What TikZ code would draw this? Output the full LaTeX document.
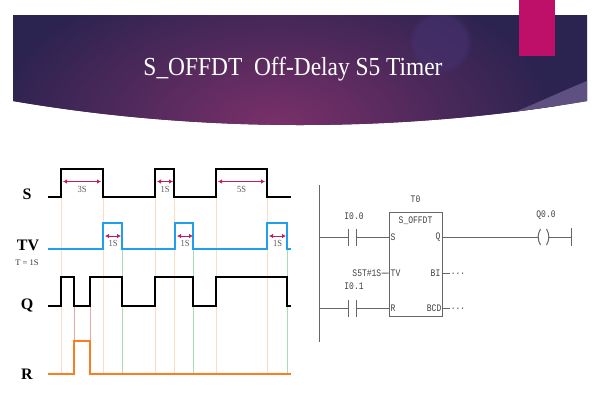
\documentclass[tikz,border=0pt]{standalone}
\usepackage{fontspec}
\setmainfont{Liberation Serif}
\setmonofont{Liberation Mono}
\usetikzlibrary{arrows.meta}
\usetikzlibrary{fadings}
\usetikzlibrary{positioning}

\definecolor{bannerdark}{HTML}{2B2350}
\definecolor{bannermid}{HTML}{7A3069}
\definecolor{bannerglow}{HTML}{46306C}
\definecolor{bannerswoosh}{HTML}{5F5082}
\definecolor{tabpink}{HTML}{BE0F69}
\definecolor{tvblue}{HTML}{1EA0EA}
\definecolor{resetorange}{HTML}{FB7D1E}
\definecolor{markred}{HTML}{C8185E}
\definecolor{guideorange}{HTML}{FCDCC6}
\definecolor{guidegreen}{HTML}{A9DDB4}
\definecolor{guidepink}{HTML}{E8A8A8}
\definecolor{ladderline}{HTML}{666666}

\tikzset{
  signal/.style={line width=1.7pt, line join=miter},
  guide/.style={line width=0.9pt},
  pulsearrow/.style={markred, line width=0.9pt, {Latex[length=4pt,width=4.5pt]}-{Latex[length=4pt,width=4.5pt]}},
  pulselabel/.style={font=\fontsize{8.5}{8.5}\selectfont, text=black!65, inner sep=0pt, yscale=1.1},
  signalname/.style={font=\bfseries\fontsize{16}{16}\selectfont, inner sep=0pt},
  wire/.style={ladderline, line width=1pt},
  laddertext/.style={font=\ttfamily\fontsize{8}{8}\selectfont, text=black!75, inner sep=0pt, yscale=1.25},
}

\begin{document}
\begin{tikzpicture}[x=1pt, y=-1pt]
  \useasboundingbox (0,0) rectangle (600,400);
  \fill[white] (0,0) rectangle (600,400);

  % banner
  \begin{scope}
    \clip (13,15) -- (587,15) -- (587,101) .. controls (400,133) and (200,133) .. (13,101) -- cycle;
    \fill[bannerdark] (0,0) rectangle (600,150);
    \shade[inner color=bannermid, outer color=bannerdark] (275,125) ellipse (285 and 160);
    \fill[bannerglow, opacity=0.7, path fading=circle with fuzzy edge 20 percent] (440,42) circle (32);
    \fill[bannerswoosh] (587,81) .. controls (540,100) and (510,118) .. (455,130) -- (587,130) -- cycle;
  \end{scope}
  \fill[tabpink] (519,0) rectangle (555,56);
  \node (title) [text=white, font=\fontsize{26}{26}\selectfont, inner sep=0pt, xscale=0.9] at (293,69) {S\_OFFDT\ \ Off-Delay S5 Timer};

  % guide lines
  \foreach \x in {61,103,155,174,216,267}
    \draw[guide, guideorange] (\x,197) -- (\x,374);
  \foreach \x in {122,193,287}
    \draw[guide, guidegreen] (\x,249) -- (\x,374);
  \foreach \x in {74,90}
    \draw[guide, guidepink] (\x,306) -- (\x,341);

  % signals
  \draw[signal, black] (48,197) -- (61,197) -- (61,169) -- (103,169) -- (103,197) -- (155,197)
    -- (155,169) -- (174,169) -- (174,197) -- (216,197) -- (216,169) -- (267,169) -- (267,197) -- (291,197);
  \draw[signal, tvblue] (48,249) -- (103,249) -- (103,223) -- (122,223) -- (122,249) -- (175,249)
    -- (175,223) -- (193,223) -- (193,249) -- (267,249) -- (267,223) -- (287,223) -- (287,249) -- (291,249);
  \draw[signal, black] (48,306) -- (61,306) -- (61,277) -- (74,277) -- (74,306) -- (90,306) -- (90,277)
    -- (122,277) -- (122,306) -- (155,306) -- (155,277) -- (193,277) -- (193,306) -- (216,306)
    -- (216,277) -- (287,277) -- (287,306) -- (291,306);
  \draw[signal, resetorange] (48,374) -- (74,374) -- (74,341) -- (90,341) -- (90,374) -- (291,374);

  \node (nameS)  [signalname] at (27,194) {S};
  \node (nameTV) [signalname] at (28,245) {TV};
  \node (nameT)  [font=\fontsize{8.5}{8.5}\selectfont, text=black!80, inner sep=0pt] at (27,263) {T = 1S};
  \node (nameQ)  [signalname] at (27,305) {Q};
  \node (nameR)  [signalname] at (27,374) {R};

  % pulse widths
  \draw[pulsearrow] (63,181.5) -- (101,181.5) node[midway, below=4pt, pulselabel]{3S};
  \draw[pulsearrow] (157,181.5) -- (173,181.5) node[midway, below=4pt, pulselabel]{1S};
  \draw[pulsearrow] (218,181.5) -- (265,181.5) node[midway, below=4pt, pulselabel]{5S};
  \draw[pulsearrow] (105,236) -- (121,236) node[midway, below=4pt, pulselabel]{1S};
  \draw[pulsearrow] (177,236) -- (193,236) node[midway, below=4pt, pulselabel]{1S};
  \draw[pulsearrow] (269,236) -- (286,236) node[midway, below=4pt, pulselabel]{1S};

  % ladder rung
  \coordinate (railtop) at (319,185);
  \coordinate (railbot) at (319,342);
  \coordinate (railS) at (319,237);
  \coordinate (railR) at (319,308);
  \draw[wire] (railtop) -- (railbot);

  \node (timer) [draw=ladderline, line width=1pt, minimum width=53pt, minimum height=104pt, inner sep=0pt] at (415.5,264) {};
  \node (timername) [laddertext, above=9pt of timer] {T0};
  \node (timertype) [laddertext, below=5pt of timer.north] {S\_OFFDT};
  \coordinate (pinS) at (timer.west |- railS);
  \coordinate (pinR) at (timer.west |- railR);
  \coordinate (pinTV) at ([yshift=-9pt]timer.west);
  \coordinate (pinQ) at (timer.east |- railS);
  \coordinate (pinBI) at (timer.east |- pinTV);
  \coordinate (pinBCD) at (timer.east |- pinR);

  \node (labelS)   [laddertext, right=2pt of pinS] {S};
  \node (labelTV)  [laddertext, right=2pt of pinTV] {TV};
  \node (labelR)   [laddertext, right=2pt of pinR] {R};
  \node (labelQ)   [laddertext, left=2pt of pinQ] {Q};
  \node (labelBI)  [laddertext, left=2pt of pinBI] {BI};
  \node (labelBCD) [laddertext, left=1pt of pinBCD] {BCD};

  % contacts
  \coordinate (c0a) at (348,237);
  \coordinate (c0b) at (356,237);
  \coordinate (c1a) at (348,308);
  \coordinate (c1b) at (356,308);
  \draw[wire] (railS) -- (c0a) ++(0,-8.5) -- ++(0,17);
  \draw[wire] (c0b) ++(0,-8.5) -- ++(0,17);
  \draw[wire] (c0b) -- (pinS);
  \draw[wire] (railR) -- (c1a) ++(0,-8.5) -- ++(0,17);
  \draw[wire] (c1b) ++(0,-8.5) -- ++(0,17);
  \draw[wire] (c1b) -- (pinR);
  \node (in0) [laddertext] at (354,216) {I0.0};
  \node (in1) [laddertext] at (354,286) {I0.1};

  % side pins
  \node (preset) [laddertext, left=7pt of pinTV] {S5T\#1S};
  \draw[wire] (preset) -- (pinTV);
  \node (dotsBI)  [laddertext] at (458,274) {...};
  \node (dotsBCD) [laddertext] at (458,309) {...};
  \draw[wire] (pinBI) -- ++(7,0);
  \draw[wire] (pinBCD) -- ++(7,0);

  % output coil
  \coordinate (coilin) at (539,237);
  \coordinate (coilout) at (548,237);
  \coordinate (railend) at (571,237);
  \node (out0) [laddertext] at (546,215) {Q0.0};
  \draw[wire] (pinQ) -- (coilin);
  \draw[wire] (coilin) ++(1.5,-8) to[bend right=30] ++(0,16);
  \draw[wire] (coilout) ++(-1.5,-8) to[bend left=30] ++(0,16);
  \draw[wire] (coilout) -- (railend) ++(0,-9) -- ++(0,18);
\end{tikzpicture}
\end{document}
